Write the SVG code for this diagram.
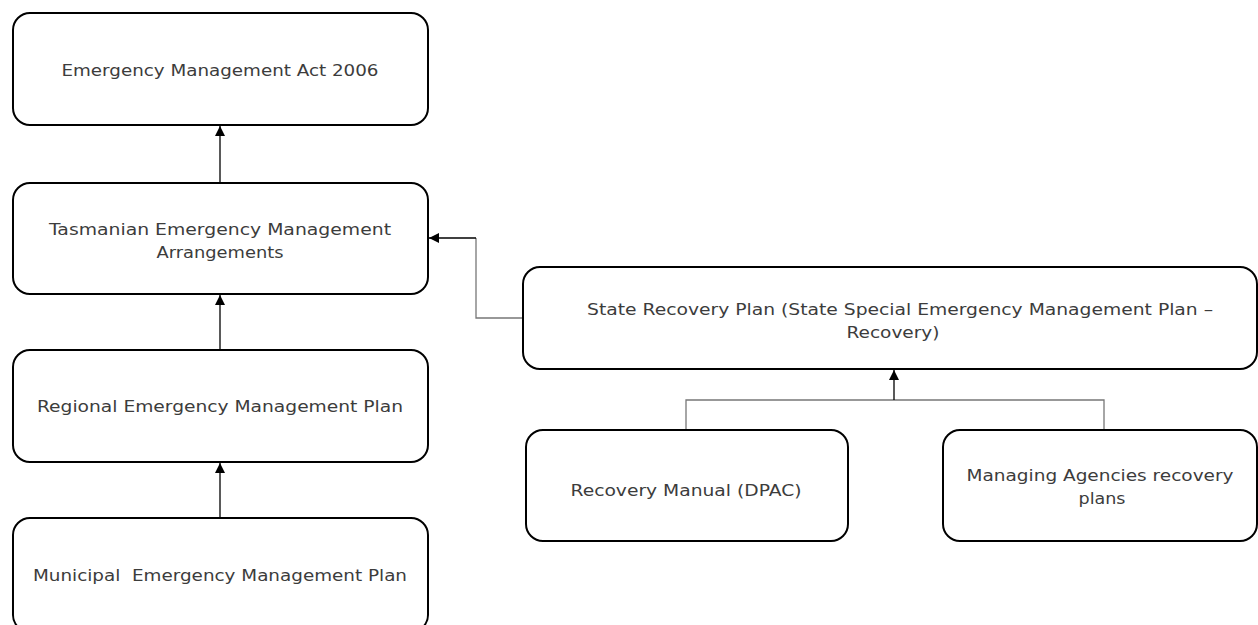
<svg xmlns="http://www.w3.org/2000/svg" width="1258" height="625" viewBox="0 0 1258 625">
<defs>
<style>
.box{fill:#fff;stroke:#000;stroke-width:2}
.t{font-family:"DejaVu Sans","Liberation Sans",sans-serif;font-size:16px;fill:#3c3c3c;text-anchor:middle}
.c{fill:none;stroke:#000;stroke-width:1.3}
.g{fill:none;stroke:#777;stroke-width:1.3}
</style>
<marker id="ah" viewBox="0 0 10 10" refX="10" refY="5" markerWidth="10" markerHeight="10" markerUnits="userSpaceOnUse" orient="auto">
<path d="M0,0 L10,5 L0,10 z" fill="#000"/>
</marker>
</defs>
<rect width="1258" height="625" fill="#fff"/>
<g id="connectors">
<line class="c" x1="220" y1="183" x2="220" y2="126" marker-end="url(#ah)"/>
<line class="c" x1="220" y1="350" x2="220" y2="295" marker-end="url(#ah)"/>
<line class="c" x1="220" y1="518" x2="220" y2="463" marker-end="url(#ah)"/>
<polyline class="g" points="523,318 476,318 476,238"/>
<line class="c" x1="476" y1="238" x2="429" y2="238" marker-end="url(#ah)"/>
<polyline class="g" points="686,430 686,400 1104,400 1104,430"/>
<line class="c" x1="894" y1="400" x2="894" y2="370" marker-end="url(#ah)"/>
</g>
<g id="n1"><rect class="box" x="13" y="13" width="415" height="112" rx="17"/>
<text class="t" x="220" y="76" textLength="317" lengthAdjust="spacingAndGlyphs">Emergency Management Act 2006</text></g>
<g id="n2"><rect class="box" x="13" y="183" width="415" height="111" rx="17"/>
<text class="t" x="220" y="235" textLength="342" lengthAdjust="spacingAndGlyphs">Tasmanian Emergency Management</text>
<text class="t" x="220" y="258" textLength="127" lengthAdjust="spacingAndGlyphs">Arrangements</text></g>
<g id="n3"><rect class="box" x="13" y="350" width="415" height="112" rx="17"/>
<text class="t" x="220" y="412" textLength="366" lengthAdjust="spacingAndGlyphs">Regional Emergency Management Plan</text></g>
<g id="n4"><rect class="box" x="13" y="518" width="415" height="114" rx="17"/>
<text class="t" x="220" y="581" textLength="374" lengthAdjust="spacingAndGlyphs">Municipal&#160; Emergency Management Plan</text></g>
<g id="n5"><rect class="box" x="523" y="267" width="734" height="102" rx="17"/>
<text class="t" x="900" y="315" textLength="626" lengthAdjust="spacingAndGlyphs">State Recovery Plan (State Special Emergency Management Plan –</text>
<text class="t" x="893" y="338" textLength="93" lengthAdjust="spacingAndGlyphs">Recovery)</text></g>
<g id="n6"><rect class="box" x="526" y="430" width="322" height="111" rx="17"/>
<text class="t" x="686" y="496" textLength="231" lengthAdjust="spacingAndGlyphs">Recovery Manual (DPAC)</text></g>
<g id="n7"><rect class="box" x="943" y="430" width="314" height="111" rx="17"/>
<text class="t" x="1100" y="481" textLength="267" lengthAdjust="spacingAndGlyphs">Managing Agencies recovery</text>
<text class="t" x="1102" y="504" textLength="47" lengthAdjust="spacingAndGlyphs">plans</text></g>
</svg>
